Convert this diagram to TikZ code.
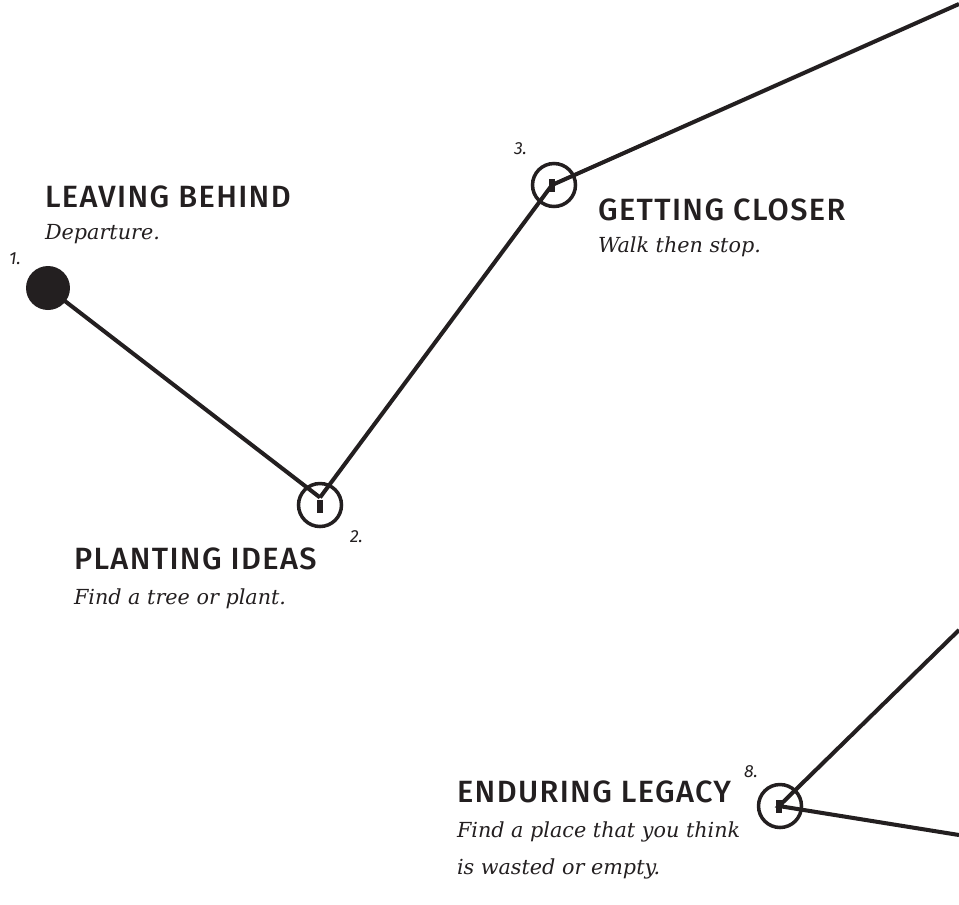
\documentclass[tikz,border=0pt]{standalone}
\usepackage{fontspec}
\setmainfont{DejaVu Serif}
\newfontfamily\headfont{Fira Sans}[UprightFont={* Medium}, LetterSpace=4.5]
\newfontfamily\numfont{Fira Sans}
\usetikzlibrary{positioning}
\definecolor{ink}{HTML}{231F20}

\begin{document}
\begin{tikzpicture}[x=0.02cm, y=-0.02cm, line width=2.3pt, draw=ink]
      \tikzstyle{start}=[circle, fill=ink, inner sep=0pt, minimum size=0.88cm]
      \tikzstyle{stop}=[circle, draw=ink, line width=2pt, inner sep=0pt, minimum size=0.86cm]
      \tikzstyle{pin}=[rectangle, fill=ink, inner sep=0pt, minimum width=0.13cm, minimum height=0.26cm]
      \tikzstyle{head}=[anchor=base west, inner sep=0pt, text=ink, font=\headfont\fontsize{17.5}{17.5}\selectfont]
      \tikzstyle{desc}=[anchor=base west, inner sep=0pt, text=ink, font=\itshape\fontsize{11.8}{11.8}\selectfont]
      \tikzstyle{num}=[anchor=base west, inner sep=0pt, text=ink, font=\numfont\itshape\fontsize{10}{10}\selectfont]
      \useasboundingbox (0,0) rectangle (959,904);
      \node[start] (A) at (48,288) {};
      \node[stop] (B) at (320,505) {};
      \node[pin] (PB) at (320,506) {};
      \node[stop] (C) at (554,185) {};
      \node[pin] (PC) at (552,185) {};
      \node[stop] (H) at (780,806) {};
      \node[pin] (PH) at (779,806) {};
      \coordinate (EC) at (959,4);
      \coordinate (EH1) at (959,630);
      \coordinate (EH2) at (959,835);
      \draw (A.center) -- (PB.north);
      \draw (PB.north) -- (PC.center) -- (EC);
      \draw (EH1) -- (PH.center) -- (EH2);
      \node[num] (nA) at (7,264) {1.};
      \node[num] (nB) at (348,542) {2.};
      \node[num] (nC) at (512,154) {3.};
      \node[num] (nH) at (742,777) {8.};
      \node[head] (hA) at (43,207) {LEAVING BEHIND};
      \node[desc, below=18.5pt of hA.base west, anchor=base west] (dA) {Departure.};
      \node[head] (hB) at (72,569) {PLANTING IDEAS};
      \node[desc, below=20pt of hB.base west, anchor=base west] (dB) {Find a tree or plant.};
      \node[head] (hC) at (596,220) {GETTING CLOSER};
      \node[desc, below=18.5pt of hC.base west, anchor=base west] (dC) {Walk then stop.};
      \node[head] (hH) at (455,802) {ENDURING LEGACY};
      \node[desc, below=20pt of hH.base west, anchor=base west] (dH) {Find a place that you think};
      \node[desc, below=21.5pt of dH.base west, anchor=base west] (dH2) {is wasted or empty.};
    \end{tikzpicture}
\end{document}
